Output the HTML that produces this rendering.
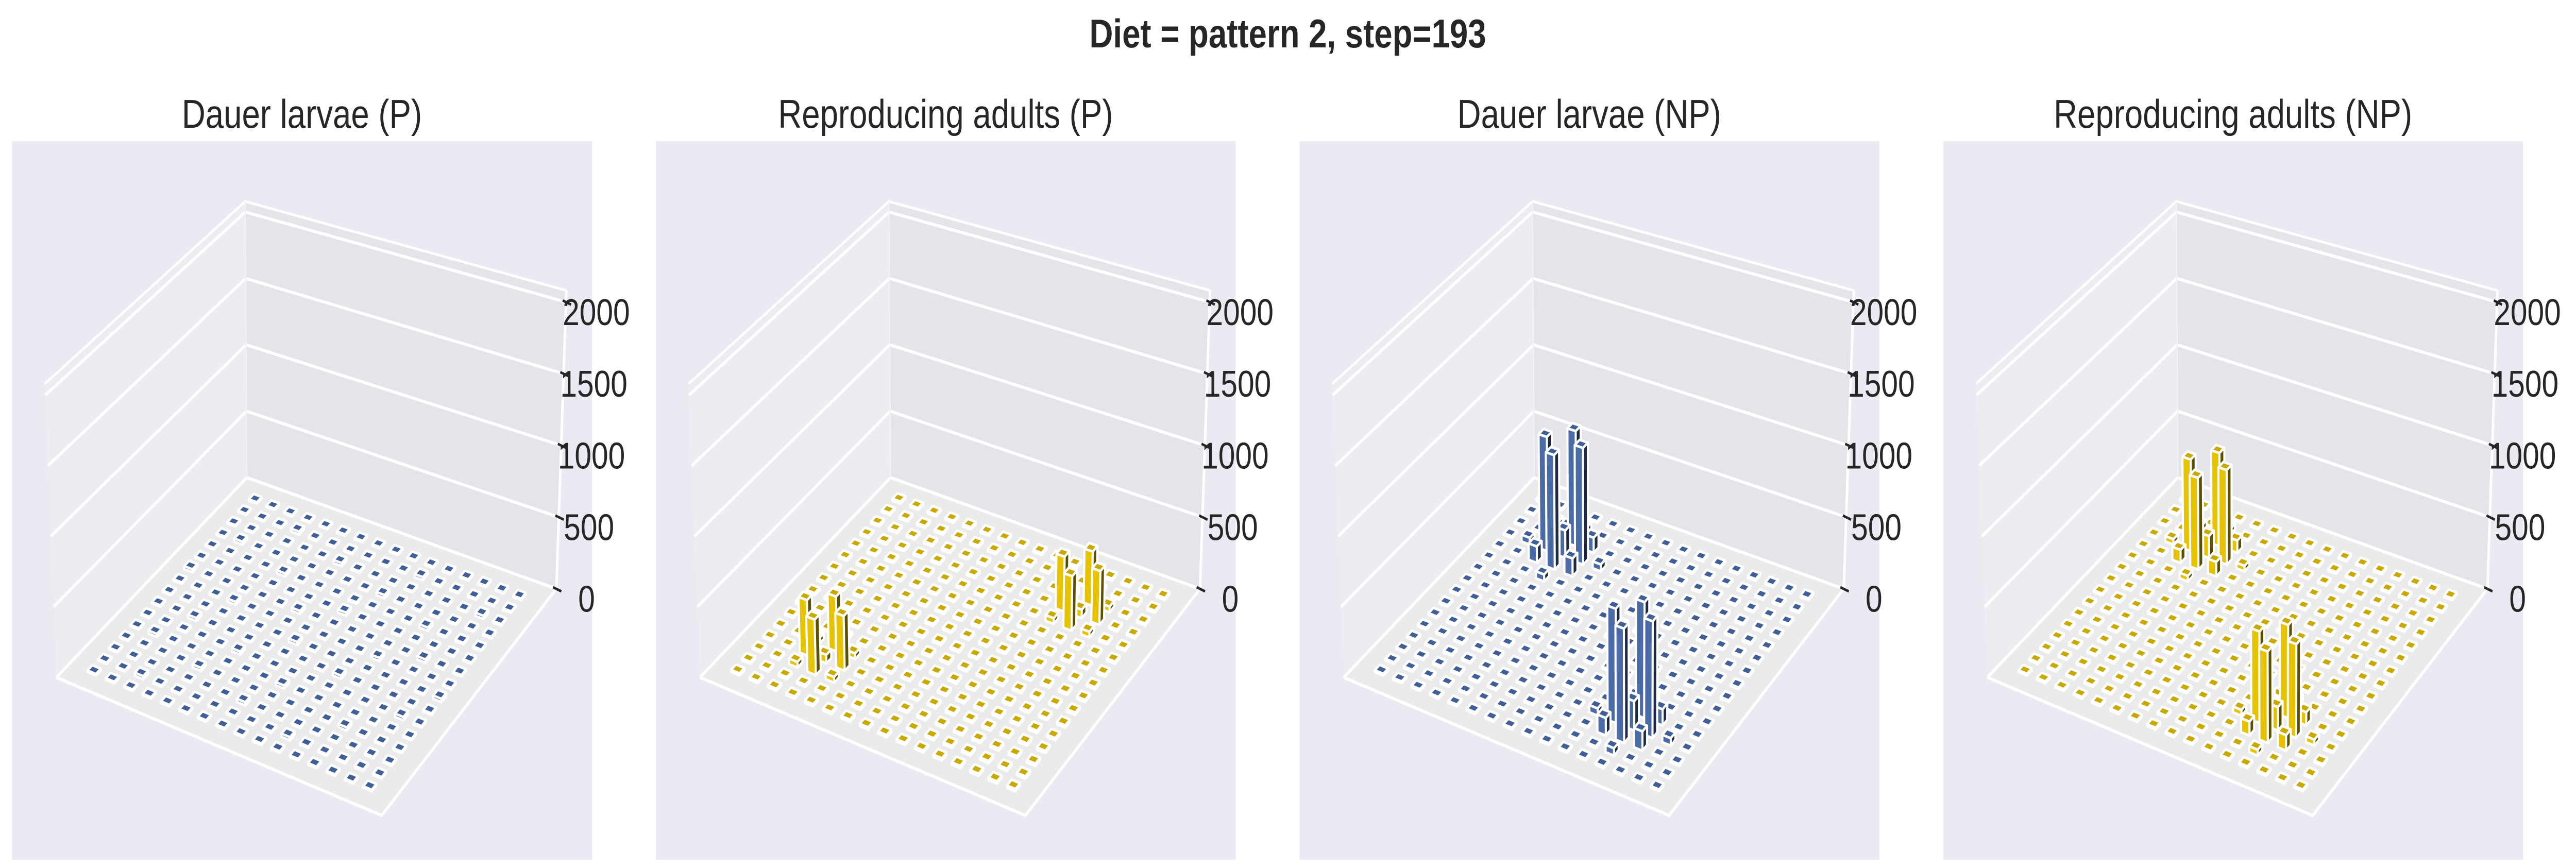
<!DOCTYPE html>
<html>
<head>
<meta charset="utf-8">
<style>
  html,body{margin:0;padding:0;background:#ffffff;width:100%;height:100%;overflow:hidden;}
  svg{display:block;width:100vw;height:100vh;}
  text{font-family:"Liberation Sans", Arial, sans-serif; fill:#262626;}
</style>
</head>
<body>
<svg id="fig" xmlns="http://www.w3.org/2000/svg" viewBox="0 0 6135 1685" preserveAspectRatio="none">
  <rect x="0" y="0" width="6135" height="1685" fill="#ffffff"/>
  <text x="3067" y="92" font-size="78" font-weight="bold" text-anchor="middle">Diet = pattern 2, step=193</text>
</svg>
<script>
// ---- chart data ----
const panelTitles = ["Dauer larvae (P)", "Reproducing adults (P)", "Dauer larvae (NP)", "Reproducing adults (NP)"];
const panelColors = ["blue", "yellow", "blue", "yellow"];
const zTicks = [0, 500, 1000, 1500, 2000];
const zTickLabels = ["0", "500", "1000", "1500", "2000"];

// rows = y index (j), columns = x index (i)
const dauerP = [
[10,10,10,10,10,10,10,10,10,10,10,10,10,10,10,10],
[10,10,10,22,10,10,10,10,10,10,22,10,10,10,10,10],
[10,10,10,10,10,10,22,10,10,10,10,10,10,10,22,10],
[10,22,10,10,10,10,10,10,10,22,10,10,10,10,10,10],
[10,10,10,10,22,10,10,10,10,10,10,10,22,10,10,10],
[10,10,10,10,10,10,10,10,22,10,10,10,10,10,10,10],
[22,10,10,10,10,10,22,10,10,10,10,10,10,22,10,10],
[10,10,10,22,10,10,10,10,10,10,10,22,10,10,10,10],
[10,10,10,10,10,10,10,22,10,10,10,10,10,10,10,22],
[10,10,22,10,10,10,10,10,10,10,22,10,10,10,10,10],
[10,10,10,10,10,22,10,10,10,10,10,10,10,10,22,10],
[10,22,10,10,10,10,10,10,22,10,10,10,10,10,10,10],
[10,10,10,10,22,10,10,10,10,10,10,10,22,10,10,10],
[10,10,10,10,10,10,10,22,10,10,10,10,10,10,10,10],
[10,10,22,10,10,10,10,10,10,10,22,10,10,10,10,10],
[10,10,10,10,10,10,10,10,10,10,10,10,10,10,10,10]
];
const adultP = [
[15,15,15,15,15,15,15,15,15,15,15,15,15,15,15,15],
[15,15,15,15,15,15,15,15,15,15,15,15,15,15,15,15],
[15,15,15,15,15,15,15,15,15,15,15,40,380,40,15,15],
[15,15,15,15,15,15,15,15,15,15,15,385,60,375,15,15],
[15,15,15,15,15,15,15,15,15,15,15,40,380,40,15,15],
[15,15,15,15,15,15,15,15,15,15,15,15,15,15,15,15],
[15,15,15,15,15,15,15,15,15,15,15,15,15,15,15,15],
[15,15,15,15,15,15,15,15,15,15,15,15,15,15,15,15],
[15,15,15,15,15,15,15,15,15,15,15,15,15,15,15,15],
[15,15,15,15,15,15,15,15,15,15,15,15,15,15,15,15],
[15,15,15,15,15,15,15,15,15,15,15,15,15,15,15,15],
[15,15,40,390,40,15,15,15,15,15,15,15,15,15,15,15],
[15,15,395,60,385,15,15,15,15,15,15,15,15,15,15,15],
[15,15,40,390,40,15,15,15,15,15,15,15,15,15,15,15],
[15,15,15,15,15,15,15,15,15,15,15,15,15,15,15,15],
[15,15,15,15,15,15,15,15,15,15,15,15,15,15,15,15]
];
const dauerNP = [
[12,12,12,12,12,12,12,12,12,12,12,12,12,12,12,12],
[12,12,12,50,12,12,12,12,12,12,12,12,12,12,12,12],
[12,12,130,840,110,12,12,12,12,12,12,12,12,12,12,12],
[12,50,835,200,845,50,12,12,12,12,12,12,12,12,12,12],
[12,12,120,830,130,12,12,12,12,12,12,12,12,12,12,12],
[12,12,12,50,12,12,12,12,12,12,12,12,12,12,12,12],
[12,12,12,12,12,12,12,12,12,12,12,12,12,12,12,12],
[12,12,12,12,12,12,12,12,12,12,12,12,12,12,12,12],
[12,12,12,12,12,12,12,12,12,12,12,12,12,12,12,12],
[12,12,12,12,12,12,12,12,12,12,12,12,12,12,12,12],
[12,12,12,12,12,12,12,12,12,12,12,12,50,12,12,12],
[12,12,12,12,12,12,12,12,12,12,12,130,790,110,12,12],
[12,12,12,12,12,12,12,12,12,12,50,780,200,790,50,12],
[12,12,12,12,12,12,12,12,12,12,12,120,775,130,12,12],
[12,12,12,12,12,12,12,12,12,12,12,12,50,12,12,12],
[12,12,12,12,12,12,12,12,12,12,12,12,12,12,12,12]
];
const adultNP = [
[12,12,12,12,12,12,12,12,12,12,12,12,12,12,12,12],
[12,12,12,40,12,12,12,12,12,12,12,12,12,12,12,12],
[12,12,105,680,90,12,12,12,12,12,12,12,12,12,12,12],
[12,40,670,160,685,40,12,12,12,12,12,12,12,12,12,12],
[12,12,95,665,105,12,12,12,12,12,12,12,12,12,12,12],
[12,12,12,40,12,12,12,12,12,12,12,12,12,12,12,12],
[12,12,12,12,12,12,12,12,12,12,12,12,12,12,12,12],
[12,12,12,12,12,12,12,12,12,12,12,12,12,12,12,12],
[12,12,12,12,12,12,12,12,12,12,12,12,12,12,12,12],
[12,12,12,12,12,12,12,12,12,12,12,12,12,12,12,12],
[12,12,12,12,12,12,12,12,12,12,12,12,40,12,12,12],
[12,12,12,12,12,12,12,12,12,12,12,105,635,90,12,12],
[12,12,12,12,12,12,12,12,12,12,40,625,160,635,40,12],
[12,12,12,12,12,12,12,12,12,12,12,95,620,105,12,12],
[12,12,12,12,12,12,12,12,12,12,12,12,40,12,12,12],
[12,12,12,12,12,12,12,12,12,12,12,12,12,12,12,12]
];
const panelData = [dauerP, adultP, dauerNP, adultNP];

// ---- geometry (panel-local) ----
const NS = "http://www.w3.org/2000/svg";
const PANEL_DX = 1533;
const ZMAX = 2080;
const B = [588,927], R = [1325,1143], L = [134,1315], F = [909,1583];
const Bt = [584,391], Rt = [1349,564], Lt = [107,745], Ft = [910,970];
const U0 = 0.07, STEP = 0.0567, BW = 0.026;
const palette = {
  blue:   {top:"#3f5f96", wide:"#4a6ba6", dark:"#1d2a42"},
  yellow: {top:"#c9a800", wide:"#e6c200", dark:"#5e4f00"}
};

function bil(P00,P10,P01,P11,u,v){
  return [P00[0]*(1-u)*(1-v)+P10[0]*u*(1-v)+P01[0]*(1-u)*v+P11[0]*u*v,
          P00[1]*(1-u)*(1-v)+P10[1]*u*(1-v)+P01[1]*(1-u)*v+P11[1]*u*v];
}
function proj(u,v,z){
  const a = bil(B,R,L,F,u,v), b = bil(Bt,Rt,Lt,Ft,u,v), t = z/ZMAX;
  return [a[0]+(b[0]-a[0])*t, a[1]+(b[1]-a[1])*t];
}
function pts(arr){ return arr.map(p=>p[0].toFixed(1)+","+p[1].toFixed(1)).join(" "); }
function mk(tag, attrs, parent){
  const e = document.createElementNS(NS, tag);
  for (const k in attrs) e.setAttribute(k, attrs[k]);
  parent.appendChild(e);
  return e;
}

const svg = document.getElementById("fig");

for (let p = 0; p < 4; p++) {
  const g = mk("g", {transform:"translate("+(p*PANEL_DX)+",0)"}, svg);
  
  

  const bg = mk("rect", {x:29, y:274, width:1381, height:1395, fill:"#eaeaf2"}, g);
  
  

  const lw = mk("polygon", {points:pts([B,L,Lt,Bt]), fill:"#ececf1"}, g);
  
  
  const rw = mk("polygon", {points:pts([B,R,Rt,Bt]), fill:"#e4e4ea"}, g);
  
  
  const fl = mk("polygon", {points:pts([B,R,F,L]), fill:"#ebebed"}, g);
  
  

  for (let k = 0; k < zTicks.length; k++) {
    const z = zTicks[k];
    const gl = mk("polyline", {points:pts([proj(0,1,z),proj(0,0,z),proj(1,0,z)]), fill:"none", stroke:"#ffffff", "stroke-width":6}, g);
    
    
  }
  const te = mk("polyline", {points:pts([Lt,Bt,Rt]), fill:"none", stroke:"#ffffff", "stroke-width":5}, g);
  
  
  const be = mk("line", {x1:B[0], y1:B[1], x2:Bt[0], y2:Bt[1], stroke:"#f2f2f5", "stroke-width":3}, g);
  
  
  const fe = mk("polyline", {points:pts([L,F,R]), fill:"none", stroke:"#ffffff", "stroke-width":6}, g);
  
  
  const ze = mk("line", {x1:R[0], y1:R[1], x2:Rt[0], y2:Rt[1], stroke:"#ffffff", "stroke-width":6}, g);
  
  

  for (let k = 0; k < zTicks.length; k++) {
    const e = proj(1,0,zTicks[k]);
    const tk = mk("line", {x1:e[0]-8, y1:e[1]-3, x2:e[0]+12, y2:e[1]+5, stroke:"#262626", "stroke-width":5}, g);
    
    
    const tl = mk("text", {x:e[0]+72, y:e[1]+20, "font-size":72, "text-anchor":"middle", "dominant-baseline":"central"}, g);
    tl.textContent = zTickLabels[k];
    
    
  }

  const data = panelData[p];
  const col = palette[panelColors[p]];
  const list = [];
  for (let j = 0; j < data.length; j++)
    for (let i = 0; i < data[j].length; i++) list.push([i,j,data[j][i]]);
  list.sort((a,b)=> (a[0]+a[1]) - (b[0]+b[1]) || (a[0]-b[0]));
  const barsG = mk("g", {"stroke":"#ffffff", "stroke-width":5, "stroke-linejoin":"round"}, g);
  
  
  for (const [i,j,h] of list) {
    const u0 = U0 + i*STEP - BW/2, u1 = u0 + BW;
    const v0 = U0 + j*STEP - BW/2, v1 = v0 + BW;
    const bar = mk("g", {}, barsG);
    
    
    mk("polygon", {points:pts([proj(u0,v1,0),proj(u1,v1,0),proj(u1,v1,h),proj(u0,v1,h)]), fill:col.wide}, bar);
    mk("polygon", {points:pts([proj(u1,v0,0),proj(u1,v1,0),proj(u1,v1,h),proj(u1,v0,h)]), fill:col.dark}, bar);
    mk("polygon", {points:pts([proj(u0,v0,h),proj(u1,v0,h),proj(u1,v1,h),proj(u0,v1,h)]), fill:col.top}, bar);
  }

  const title = mk("text", {x:719, y:248, "font-size":78, "text-anchor":"middle"}, g);
  title.textContent = panelTitles[p];
  
  
}
</script>
</body>
</html>
